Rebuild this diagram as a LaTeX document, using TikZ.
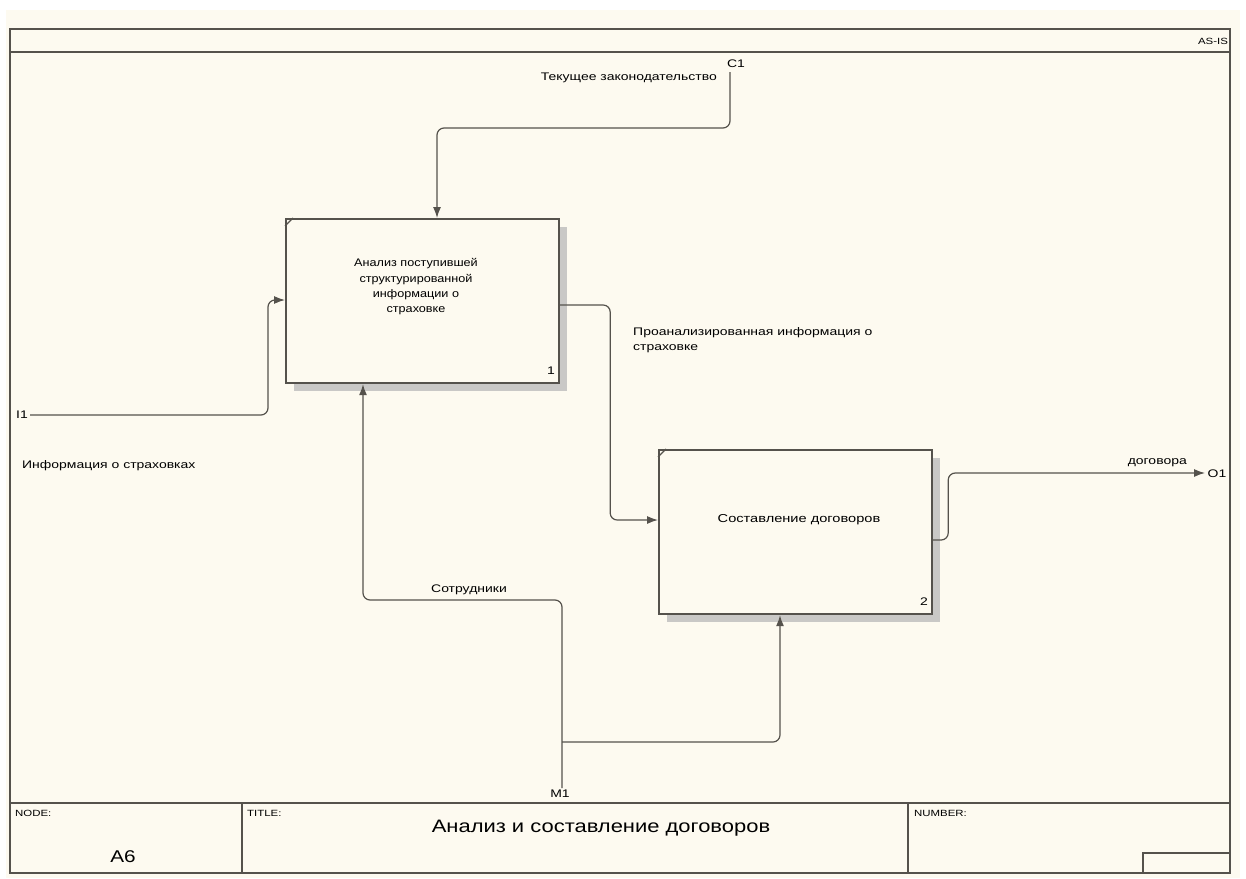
\documentclass[tikz,border=0pt]{standalone}
\usepackage{fontspec}
\setmainfont[FakeStretch=1.27]{Liberation Sans}
\newfontfamily\boxfont[FakeStretch=1.15]{Liberation Sans}
\newfontfamily\titlefont[FakeStretch=1.22]{Liberation Sans}
\usetikzlibrary{arrows.meta,shadows,positioning}
\definecolor{paper}{RGB}{253,250,240}
\definecolor{ink}{RGB}{85,82,76}

\begin{document}
\begin{tikzpicture}[x=1pt,y=-1pt,node font=\fontsize{11}{15}\selectfont,inner sep=0pt,rounded corners=7pt]
	\tikzstyle{activity}=[draw=ink,line width=2.2pt,fill=paper,sharp corners,minimum width=273pt,minimum height=164pt,anchor=north west,drop shadow={shadow xshift=8pt,shadow yshift=-8pt,fill=ink!32,opacity=1}]
	\tikzstyle{link}=[draw=ink,line width=1.2pt,-{Latex[length=11pt,width=8pt]}]
	\tikzstyle{frame}=[draw=ink,line width=1.6pt,sharp corners]
	\tikzstyle{small}=[font=\fontsize{9}{11}\selectfont]
	
	\useasboundingbox (0,0) rectangle (1246,878);
	\fill[white,sharp corners] (0,0) rectangle (1246,878);
	\fill[paper,sharp corners] (6,10) rectangle (1240,878);
	
	% frame and title block
	\draw[frame] (10,29) rectangle (1230,873);
	\draw[frame] (10,52) -- (1230,52);
	\draw[frame] (10,803) -- (1230,803);
	\draw[frame] (242,803) -- (242,873);
	\draw[frame] (908,803) -- (908,873);
	\draw[frame] (1143,873) |- (1230,853);
	\node[small] (status) at (1213,41) {AS-IS};
	\node[small,anchor=north west] (nodelab) at (15,810) {NODE:};
	\node[small,anchor=north west] (titlelab) at (247,810) {TITLE:};
	\node[small,anchor=north west] (numlab) at (914,810) {NUMBER:};
	\node[font=\titlefont\fontsize{17}{20}\selectfont] (nodeno) at (123,857) {A6};
	\node[font=\titlefont\fontsize{18}{22}\selectfont] (title) at (601,828) {Анализ и составление договоров};
	
	% activities
	\node[activity] (A1) at (285,218) {};
	\node[activity] (A2) at (658,449) {};
	\node[align=center,font=\boxfont\fontsize{11}{15.3}\selectfont] (A1txt) at (416,287) {Анализ поступившей\\структурированной\\информации о\\страховке};
	\node[font=\fontsize{11.5}{15}\selectfont] (A2txt) at (799,520) {Составление договоров};
	\node (A1no) at (551,371) {1};
	\node (A2no) at (924,602) {2};
	\draw[ink,line width=1.2pt,sharp corners] ([yshift=-8pt]A1.north west) -- ([xshift=8pt]A1.north west);
	\draw[ink,line width=1.2pt,sharp corners] ([yshift=-8pt]A2.north west) -- ([xshift=8pt]A2.north west);
	
	% boundary arrows
	\coordinate (C1) at (730,72);
	\coordinate (I1) at (30,415);
	\coordinate (M1) at (562,788);
	\coordinate (O1) at (1205,473);
	
	\draw[link] (C1) -- ++(0,56) -| ([xshift=152pt]A1.north west);
	\draw[link] (I1) -- ++(238,0) |- ([yshift=-82pt]A1.north west);
	\draw[link] ([yshift=-87pt]A1.north east) -- ++(50,0) |- ([yshift=-71pt]A2.north west);
	\draw[link] (M1) -- ++(0,-188) -| ([xshift=78pt]A1.south west);
	\draw[link] (M1) ++(0,-46) -| ([xshift=122pt]A2.south west);
	\draw[link] ([yshift=-91pt]A2.north east) -- ++(15,0) |- (O1);
	
	% labels
	\node (C1lab) at (736,64) {C1};
	\node[anchor=east] (C1txt) at (717,78) {Текущее законодательство};
	\node (I1lab) at (22,415) {I1};
	\node[anchor=west] (I1txt) at (22,466) {Информация о страховках};
	\node[anchor=north west,align=left] (A1out) at (633,327) {Проанализированная информация о\\страховке};
	\node (M1txt) at (469,590) {Сотрудники};
	\node (M1lab) at (560,794) {M1};
	\node[anchor=east] (O1txt) at (1187,463) {договора};
	\node (O1lab) at (1217,474) {O1};
\end{tikzpicture}
\end{document}
